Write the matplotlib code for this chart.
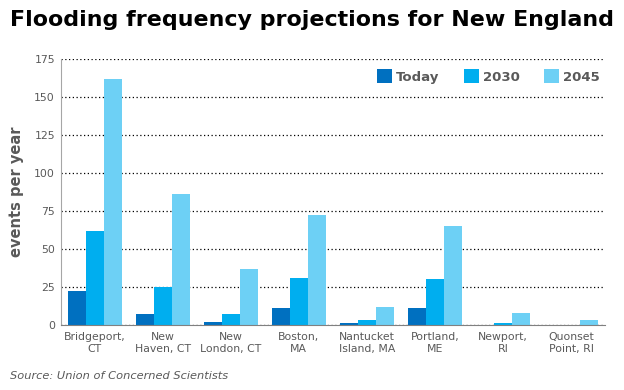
import numpy as np
import matplotlib.pyplot as plt

# data
cities = ['Bridgeport,\nCT', 'New\nHaven, CT', 'New\nLondon, CT', 'Boston,\nMA',
          'Nantucket\nIsland, MA', 'Portland,\nME', 'Newport,\nRI', 'Quonset\nPoint, RI']
today = [22, 7, 2, 11, 1, 11, 0, 0]
y2030 = [62, 25, 7, 31, 3, 30, 1, 0]
y2045 = [162, 86, 37, 72, 12, 65, 8, 3]
series_names = ['Today', '2030', '2045']
colors = ['#0070C0', '#00AEEF', '#6DD0F5']
gray = '#595959'

fig = plt.figure(figsize=(6.24, 3.9), dpi=100)
ax = fig.add_axes([0.097, 0.167, 0.873, 0.682])

x = np.arange(len(cities))
w = 0.265
for i, (vals, name) in enumerate(zip([today, y2030, y2045], series_names)):
    ax.bar(x + (i - 1) * w, vals, width=w, color=colors[i], label=name, zorder=2)

ax.set_xlim(-0.5, len(cities) - 0.5)
ax.set_ylim(0, 175)
ax.set_yticks(np.arange(0, 176, 25))
ax.set_xticks(x)
ax.set_xticklabels(cities, fontsize=7.8, color=gray, linespacing=1.25)
ax.tick_params(axis='y', labelsize=7.8, labelcolor=gray, length=0, pad=4)
ax.tick_params(axis='x', length=0, pad=5)
ax.grid(axis='y', color='black', linestyle=(0, (1, 2)), linewidth=0.9, zorder=1)
for s in ['top', 'right']:
    ax.spines[s].set_visible(False)
ax.spines['left'].set_color('#A6A6A6')
ax.spines['bottom'].set_color('#808080')
ax.set_ylabel('events per year', fontsize=10.5, fontweight='bold', color=gray, labelpad=7)

leg = ax.legend(loc='upper right', ncol=3, frameon=False, bbox_to_anchor=(1.0, 0.98),
                prop={'weight': 'bold', 'size': 9.5}, handlelength=1.15, handleheight=1.15,
                handletextpad=0.3, columnspacing=1.85, borderaxespad=0)
for t in leg.get_texts():
    t.set_color(gray)

fig.text(0.016, 0.95, 'Flooding frequency projections for New England',
         fontsize=15.9, fontweight='bold', color='black', ha='left', va='center')
fig.text(0.016, 0.035, 'Source: Union of Concerned Scientists', fontsize=8.2,
         style='italic', color=gray, ha='left', va='center')

plt.savefig('out.png', dpi=100)
